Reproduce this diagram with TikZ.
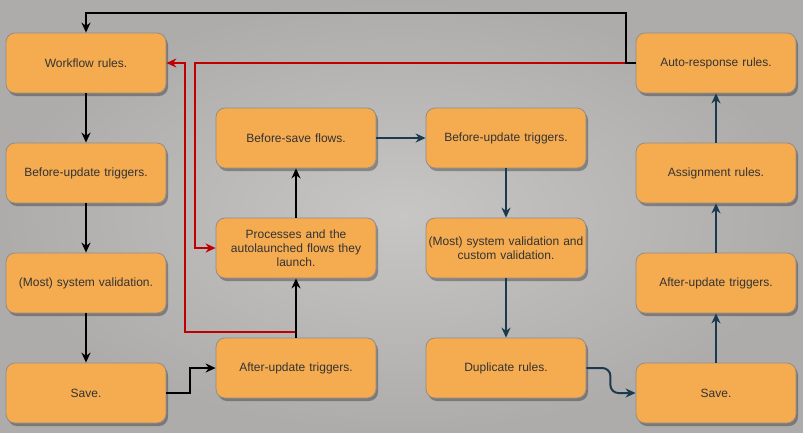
\documentclass[tikz,border=0pt]{standalone}
\usepackage{fontspec}
\setmainfont{Liberation Sans}
\usetikzlibrary{arrows.meta,shadows}
\definecolor{boxfill}{HTML}{F5AB50}
\definecolor{boxline}{HTML}{8E8E8E}
\definecolor{boxtext}{HTML}{333333}
\definecolor{navy}{HTML}{1B3A4F}
\definecolor{redwire}{HTML}{C00000}
\definecolor{paperin}{HTML}{C8C6C4}
\definecolor{paperout}{HTML}{AEACAA}
\tikzset{
	stepnode/.style={rectangle, rounded corners=9pt, draw=boxline, fill=boxfill, line width=0.8pt,
		minimum width=160pt, minimum height=60pt, text width=156pt, inner sep=2pt, align=center,
		text=boxtext, font=\fontsize{12pt}{14pt}\selectfont,
		drop shadow={shadow xshift=2pt, shadow yshift=-3pt, fill=black, opacity=0.3}},
	blkwire/.style={line width=2pt, draw=black, -{Stealth[length=10pt,width=9pt]}},
	bluwire/.style={line width=2pt, draw=navy, -{Stealth[length=10pt,width=9pt]}},
	redarrow/.style={line width=2pt, draw=redwire, -{Stealth[length=10pt,width=9pt]}}
}

\begin{document}
\begin{tikzpicture}[x=1pt, y=-1pt]
		%%%%% START %%%%%
		
		\useasboundingbox (0, 0) rectangle (803, 432);
		\shade[inner color=paperin, outer color=paperout] (0, 0) rectangle (803, 432);
		
		\node[stepnode] (wfrules) at (86, 63) {Workflow rules.};
		\node[stepnode] (bupdone) at (86, 173) {Before-update triggers.};
		\node[stepnode] (sysvalone) at (86, 283) {(Most) system validation.};
		\node[stepnode] (saveone) at (86, 393) {Save.};
		
		\node[stepnode] (bsave) at (296, 138) {Before-save flows.};
		\node[stepnode] (procs) at (296, 248) {Processes and the\\autolaunched flows they\\launch.};
		\node[stepnode] (aupdtwo) at (296, 368) {After-update triggers.};
		
		\node[stepnode] (bupdthree) at (506, 138) {Before-update triggers.};
		\node[stepnode] (sysvalthree) at (506, 248) {(Most) system validation and\\custom validation.};
		\node[stepnode] (duprules) at (506, 368) {Duplicate rules.};
		
		\node[stepnode] (autoresp) at (716, 63) {Auto-response rules.};
		\node[stepnode] (assign) at (716, 173) {Assignment rules.};
		\node[stepnode] (aupdfour) at (716, 283) {After-update triggers.};
		\node[stepnode] (savefour) at (716, 393) {Save.};
		
		% red loops
		\draw[redarrow] (aupdtwo.north) -- ++(0, -6) -| (185, 63) -- (wfrules.east);
		\draw[redarrow] (autoresp.west) -- (195, 63) |- (procs.west);
		
		% black
		\draw[blkwire] (autoresp.west) -| (626, 13) -| (wfrules.north);
		\draw[blkwire] (wfrules) -- (bupdone);
		\draw[blkwire] (bupdone) -- (sysvalone);
		\draw[blkwire] (sysvalone) -- (saveone);
		\draw[blkwire] (saveone.east) -- ++(24, 0) |- (aupdtwo.west);
		\draw[blkwire] (aupdtwo) -- (procs);
		\draw[blkwire] (procs) -- (bsave);
		
		% navy
		\draw[bluwire] (bsave) -- (bupdthree);
		\draw[bluwire] (bupdthree) -- (sysvalthree);
		\draw[bluwire] (sysvalthree) -- (duprules);
		\draw[bluwire, rounded corners=8pt] (duprules.east) -- ++(24, 0) |- (savefour.west);
		\draw[bluwire] (savefour) -- (aupdfour);
		\draw[bluwire] (aupdfour) -- (assign);
		\draw[bluwire] (assign) -- (autoresp);
		
		%%%%% END %%%%%
	\end{tikzpicture}
\end{document}
